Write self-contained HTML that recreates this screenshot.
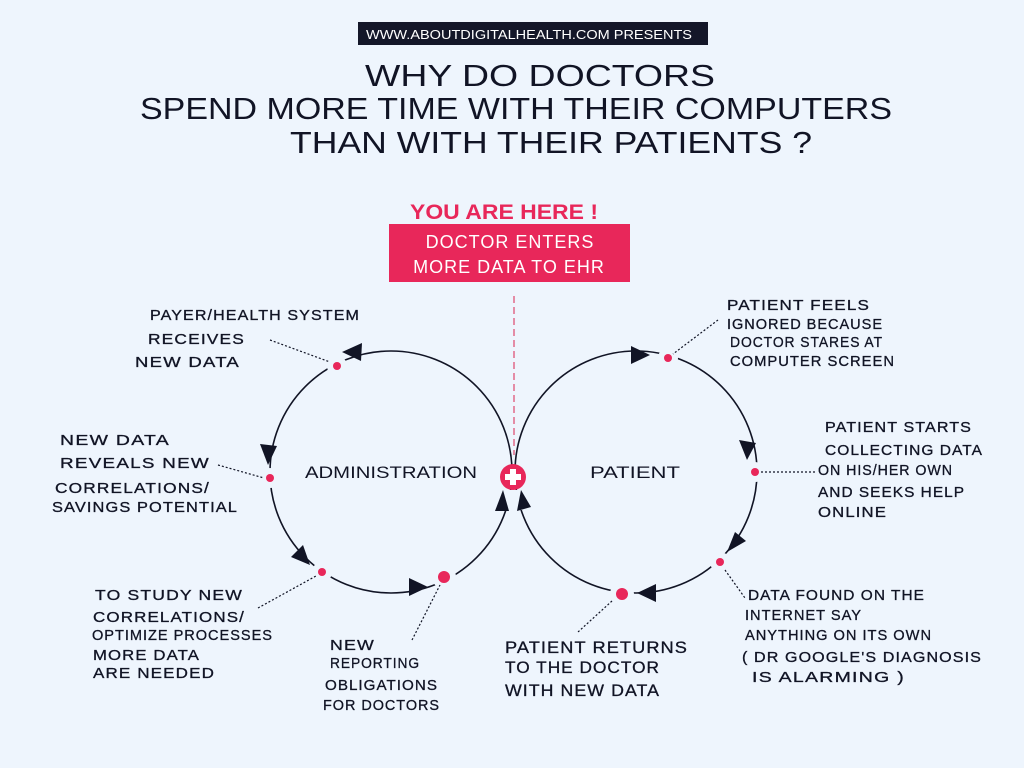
<!DOCTYPE html>
<html><head><meta charset="utf-8"><style>
html,body{margin:0;padding:0;background:#eef5fd;}
svg{display:block}
text{font-family:"Liberation Sans",sans-serif;fill:#111425;}
.l{font-size:15px;letter-spacing:1px;stroke:#111425;stroke-width:0.3px;}
</style></head><body>
<svg width="1024" height="768" viewBox="0 0 1024 768" xmlns="http://www.w3.org/2000/svg">
<rect width="1024" height="768" fill="#eef5fd"/>
<rect x="358" y="22" width="350" height="23" fill="#141729"/>
<text x="366" y="39" font-size="13" textLength="326" lengthAdjust="spacingAndGlyphs" style="fill:#fff">WWW.ABOUTDIGITALHEALTH.COM PRESENTS</text>
<text x="365" y="86" font-size="31" textLength="350" lengthAdjust="spacingAndGlyphs">WHY DO DOCTORS</text>
<text x="140" y="119" font-size="31" textLength="752" lengthAdjust="spacingAndGlyphs">SPEND MORE TIME WITH THEIR COMPUTERS</text>
<text x="290" y="153" font-size="31" textLength="522" lengthAdjust="spacingAndGlyphs">THAN WITH THEIR PATIENTS ?</text>
<text x="410" y="219" font-size="21" font-weight="bold" textLength="188" lengthAdjust="spacingAndGlyphs" style="fill:#e8275a">YOU ARE HERE !</text>
<rect x="389" y="224" width="241" height="58" fill="#e8275a"/>
<text x="510" y="248" font-size="18" text-anchor="middle" style="fill:#fff" letter-spacing="1">DOCTOR ENTERS</text>
<text x="509" y="273" font-size="18" text-anchor="middle" style="fill:#fff" letter-spacing="1">MORE DATA TO EHR</text>
<line x1="514" y1="296" x2="514" y2="455" stroke="#e06a8a" stroke-width="1.5" stroke-dasharray="7,4"/>
<g fill="none" stroke="#111425" stroke-width="1.6">
<circle cx="391" cy="472" r="121"/>
<circle cx="636" cy="472" r="121"/>
</g>
<g fill="#eef5fd">
<circle cx="337" cy="366" r="10"/><circle cx="270" cy="478" r="10"/><circle cx="322" cy="572" r="10"/><circle cx="444" cy="577" r="12"/>
<circle cx="668" cy="358" r="10"/><circle cx="755" cy="472" r="10"/><circle cx="720" cy="562" r="10"/><circle cx="622" cy="594" r="12"/>
<rect x="494" y="490" width="40" height="20"/>
</g>
<g fill="#111425">
<polygon points="342,352 362,343 361,361"/>
<polygon points="268,465 260,444 277,446"/>
<polygon points="310,565 291,557 303,545"/>
<polygon points="428,587 409,578 409,596"/>
<polygon points="503,490 495,511 509,511"/>
<polygon points="650,355 631,346 631,364"/>
<polygon points="747,460 739,440 756,443"/>
<polygon points="727,552 735,532 746,541"/>
<polygon points="637,593 656,584 656,602"/>
<polygon points="521,490 517,511 531,507"/>
</g>
<g fill="#e8275a">
<circle cx="337" cy="366" r="4"/><circle cx="270" cy="478" r="4"/><circle cx="322" cy="572" r="4"/><circle cx="444" cy="577" r="6"/>
<circle cx="668" cy="358" r="4"/><circle cx="755" cy="472" r="4"/><circle cx="720" cy="562" r="4"/><circle cx="622" cy="594" r="6"/>
<circle cx="513" cy="477" r="13"/>
</g>
<rect x="510" y="469" width="6" height="16" fill="#fff"/><rect x="505" y="474" width="16" height="6" fill="#fff"/>
<g stroke="#111425" stroke-width="1.2" stroke-dasharray="2,2" fill="none">
<line x1="270" y1="340" x2="330" y2="362"/>
<line x1="218" y1="465" x2="264" y2="478"/>
<line x1="258" y1="608" x2="316" y2="576"/>
<line x1="412" y1="640" x2="440" y2="585"/>
<line x1="718" y1="320" x2="673" y2="354"/>
<line x1="761" y1="472" x2="815" y2="472"/>
<line x1="725" y1="570" x2="745" y2="598"/>
<line x1="612" y1="601" x2="578" y2="632"/>
</g>
<text x="305" y="478" font-size="17" textLength="172" lengthAdjust="spacingAndGlyphs">ADMINISTRATION</text>
<text x="590" y="478" font-size="17" textLength="90" lengthAdjust="spacingAndGlyphs">PATIENT</text>
<g class="l">
<text x="150" y="320" textLength="210" lengthAdjust="spacingAndGlyphs">PAYER/HEALTH SYSTEM</text>
<text x="148" y="344" textLength="97" lengthAdjust="spacingAndGlyphs">RECEIVES</text>
<text x="135" y="367" textLength="105" lengthAdjust="spacingAndGlyphs">NEW DATA</text>
<text x="60" y="445" textLength="110" lengthAdjust="spacingAndGlyphs">NEW DATA</text>
<text x="60" y="468" textLength="150" lengthAdjust="spacingAndGlyphs">REVEALS NEW</text>
<text x="55" y="493" textLength="155" lengthAdjust="spacingAndGlyphs">CORRELATIONS/</text>
<text x="52" y="512" textLength="186" lengthAdjust="spacingAndGlyphs">SAVINGS POTENTIAL</text>
<text x="95" y="600" textLength="148" lengthAdjust="spacingAndGlyphs">TO STUDY NEW</text>
<text x="93" y="622" textLength="152" lengthAdjust="spacingAndGlyphs">CORRELATIONS/</text>
<text x="92" y="640" textLength="181" lengthAdjust="spacingAndGlyphs">OPTIMIZE PROCESSES</text>
<text x="93" y="660" textLength="107" lengthAdjust="spacingAndGlyphs">MORE DATA</text>
<text x="93" y="678" textLength="122" lengthAdjust="spacingAndGlyphs">ARE NEEDED</text>
<text x="330" y="650" textLength="45" lengthAdjust="spacingAndGlyphs">NEW</text>
<text x="330" y="668" textLength="90" lengthAdjust="spacingAndGlyphs">REPORTING</text>
<text x="325" y="690" textLength="113" lengthAdjust="spacingAndGlyphs">OBLIGATIONS</text>
<text x="323" y="710" textLength="117" lengthAdjust="spacingAndGlyphs">FOR DOCTORS</text>
<text x="727" y="310" textLength="143" lengthAdjust="spacingAndGlyphs">PATIENT FEELS</text>
<text x="727" y="329" textLength="156" lengthAdjust="spacingAndGlyphs">IGNORED BECAUSE</text>
<text x="730" y="347" textLength="153" lengthAdjust="spacingAndGlyphs">DOCTOR STARES AT</text>
<text x="730" y="366" textLength="165" lengthAdjust="spacingAndGlyphs">COMPUTER SCREEN</text>
<text x="825" y="432" textLength="147" lengthAdjust="spacingAndGlyphs">PATIENT STARTS</text>
<text x="825" y="455" textLength="158" lengthAdjust="spacingAndGlyphs">COLLECTING DATA</text>
<text x="818" y="475" textLength="135" lengthAdjust="spacingAndGlyphs">ON HIS/HER OWN</text>
<text x="818" y="497" textLength="147" lengthAdjust="spacingAndGlyphs">AND SEEKS HELP</text>
<text x="818" y="517" textLength="69" lengthAdjust="spacingAndGlyphs">ONLINE</text>
<text x="748" y="600" textLength="177" lengthAdjust="spacingAndGlyphs">DATA FOUND ON THE</text>
<text x="745" y="620" textLength="117" lengthAdjust="spacingAndGlyphs">INTERNET SAY</text>
<text x="745" y="640" textLength="187" lengthAdjust="spacingAndGlyphs">ANYTHING ON ITS OWN</text>
<text x="742" y="662" textLength="240" lengthAdjust="spacingAndGlyphs">( DR GOOGLE'S DIAGNOSIS</text>
<text x="752" y="682" textLength="153" lengthAdjust="spacingAndGlyphs">IS ALARMING )</text>
<text x="505" y="653" font-size="17" textLength="183" lengthAdjust="spacingAndGlyphs">PATIENT RETURNS</text>
<text x="505" y="673" font-size="17" textLength="155" lengthAdjust="spacingAndGlyphs">TO THE DOCTOR</text>
<text x="505" y="696" font-size="17" textLength="155" lengthAdjust="spacingAndGlyphs">WITH NEW DATA</text>
</g>
</svg>
</body></html>
